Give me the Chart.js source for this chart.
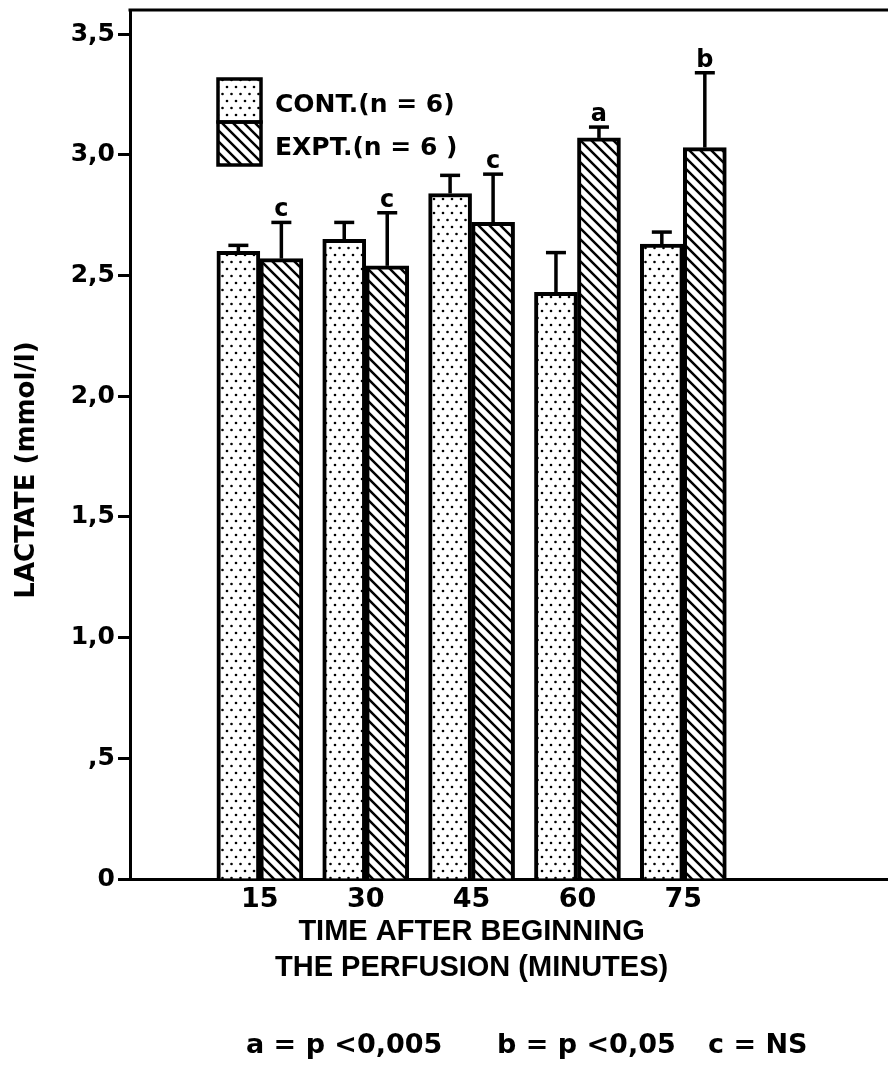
<!DOCTYPE html>
<html><head><meta charset="utf-8">
<script src="https://cdn.jsdelivr.net/npm/chart.js@4.4.0/dist/chart.umd.min.js"></script>
<style>html,body{margin:0;padding:0;background:#fff;overflow:hidden}#wrap{width:888px;height:1069px;position:relative}canvas{display:block}</style>
</head><body><div id="wrap"><canvas id="c" width="888" height="1069"></canvas></div>
<script>
const minutes = [15, 30, 45, 60, 75];
const xTickLabels = ['15', '30', '45', '60', '75'];
const contMeans = [2.60, 2.65, 2.84, 2.43, 2.63];
const contErrors = [0.025, 0.07, 0.075, 0.165, 0.05];
const exptMeans = [2.57, 2.54, 2.72, 3.07, 3.03];
const exptErrors = [0.15, 0.22, 0.20, 0.045, 0.31];
const exptSignificance = ['c', 'c', 'c', 'a', 'b'];
const yTickValues = [0, 0.5, 1, 1.5, 2, 2.5, 3, 3.5];
const yTickLabels = ['0', ',5', '1,0', '1,5', '2,0', '2,5', '3,0', '3,5'];
const legendLabels = ['CONT.(n = 6)', 'EXPT.(n = 6 )'];
const yTitle = 'LACTATE (mmol/l)';
const xTitleLines = ['TIME AFTER BEGINNING', 'THE PERFUSION (MINUTES)'];
const footnotes = ['a = p <0,005', 'b = p <0,05', 'c = NS'];

const FONT = '"DejaVu Sans", sans-serif';
const NARROW = '"Liberation Sans Narrow", "Liberation Sans", sans-serif';

function makeDots() {
  const t = document.createElement('canvas'); t.width = 9; t.height = 14;
  const g = t.getContext('2d');
  g.fillStyle = '#fff'; g.fillRect(0, 0, 9, 14);
  g.fillStyle = '#000';
  g.beginPath(); g.arc(2, 3, 1.3, 0, Math.PI * 2); g.fill();
  g.beginPath(); g.arc(6.5, 10, 1.3, 0, Math.PI * 2); g.fill();
  return document.getElementById('c').getContext('2d').createPattern(t, 'repeat');
}
function makeHatch() {
  const s = 11;
  const t = document.createElement('canvas'); t.width = s; t.height = s;
  const g = t.getContext('2d');
  g.fillStyle = '#fff'; g.fillRect(0, 0, s, s);
  g.strokeStyle = '#000'; g.lineWidth = 2.5;
  g.beginPath();
  g.moveTo(-2, -2); g.lineTo(s + 2, s + 2);
  g.moveTo(-2, s - 2); g.lineTo(2, s + 2);
  g.moveTo(s - 2, -2); g.lineTo(s + 2, 2);
  g.stroke();
  return document.getElementById('c').getContext('2d').createPattern(t, 'repeat');
}
const dots = makeDots();
const hatch = makeHatch();

const deco = {
  id: 'deco',
  afterDatasetsDraw(chart) {
    const { ctx, scales: { y } } = chart;
    ctx.save();
    ctx.strokeStyle = '#000'; ctx.fillStyle = '#000'; ctx.lineWidth = 3.5;
    [[0, contMeans, contErrors], [1, exptMeans, exptErrors]].forEach(([di, means, errs]) => {
      const meta = chart.getDatasetMeta(di);
      meta.data.forEach((bar, i) => {
        const cx = bar.x;
        const y0 = y.getPixelForValue(means[i]);
        const y1 = y.getPixelForValue(means[i] + errs[i]);
        ctx.beginPath(); ctx.moveTo(cx, y0); ctx.lineTo(cx, y1); ctx.stroke();
        ctx.beginPath(); ctx.moveTo(cx - 10, y1); ctx.lineTo(cx + 10, y1); ctx.stroke();
        if (di === 1) {
          ctx.font = 'bold 24px ' + FONT;
          ctx.textAlign = 'center'; ctx.textBaseline = 'alphabetic';
          ctx.fillText(exptSignificance[i], cx, y1 - 6);
        }
      });
    });
    ctx.restore();
  },
  afterDraw(chart) {
    const { ctx, chartArea: ca, scales: { x } } = chart;
    ctx.save();
    ctx.strokeStyle = '#000'; ctx.fillStyle = '#000'; ctx.lineWidth = 3;
    // top frame
    ctx.beginPath(); ctx.moveTo(ca.left - 1.5, ca.top); ctx.lineTo(chart.width, ca.top); ctx.stroke();
    // legend
    const lx = 218, ly = 79, bw = 43, bh = 43;
    ctx.fillStyle = dots; ctx.fillRect(lx, ly, bw, bh);
    ctx.fillStyle = hatch; ctx.fillRect(lx, ly + bh, bw, bh);
    ctx.lineWidth = 3.5;
    ctx.strokeRect(lx, ly, bw, bh); ctx.strokeRect(lx, ly + bh, bw, bh);
    ctx.fillStyle = '#000';
    ctx.font = 'bold 25px ' + FONT; ctx.textAlign = 'left'; ctx.textBaseline = 'middle';
    ctx.fillText(legendLabels[0], 275, 105);
    ctx.fillText(legendLabels[1], 275, 148);
    // y title
    ctx.save();
    ctx.translate(27, 470); ctx.rotate(-Math.PI / 2);
    ctx.font = 'bold 26px ' + FONT; ctx.textAlign = 'center'; ctx.textBaseline = 'middle';
    ctx.fillText(yTitle, 0, 0);
    ctx.restore();
    // x title
    const cx = x.getPixelForValue(45);
    ctx.font = 'bold 29px ' + NARROW; ctx.textAlign = 'center'; ctx.textBaseline = 'middle';
    ctx.fillText(xTitleLines[0], cx, 932);
    ctx.fillText(xTitleLines[1], cx, 968);
    // footnotes
    ctx.font = 'bold 27px ' + FONT; ctx.textAlign = 'left';
    ctx.fillText(footnotes[0], 246, 1046);
    ctx.fillText(footnotes[1], 497, 1046);
    ctx.fillText(footnotes[2], 708, 1046);
    ctx.restore();
  }
};

new Chart(document.getElementById('c'), {
  type: 'bar',
  data: {
    datasets: [
      { label: legendLabels[0], data: minutes.map((m, i) => ({ x: m, y: contMeans[i] })),
        backgroundColor: dots, borderColor: '#000', borderWidth: 4, borderSkipped: 'start', barThickness: 43 },
      { label: legendLabels[1], data: minutes.map((m, i) => ({ x: m, y: exptMeans[i] })),
        backgroundColor: hatch, borderColor: '#000', borderWidth: 4, borderSkipped: 'start', barThickness: 43 }
    ]
  },
  options: {
    responsive: false, animation: false, devicePixelRatio: 1,
    layout: { padding: { top: 10, right: 0, bottom: 0, left: 0 } },
    plugins: { legend: { display: false }, tooltip: { enabled: false } },
    scales: {
      x: {
        type: 'linear', min: -3.4, max: 104, offset: false,
        grid: { display: false, drawTicks: false },
        border: { display: true, color: '#000', width: 3 },
        ticks: { color: '#000', font: { family: FONT, size: 27, weight: 'bold' }, padding: 5,
          autoSkip: false, maxRotation: 0,
          callback: (v) => { const k = minutes.indexOf(v); return k >= 0 ? xTickLabels[k] : ''; } },
        afterBuildTicks: (s) => { s.ticks = minutes.map(v => ({ value: v })); },
        afterFit: (s) => { s.height = 190; s.paddingLeft = 0; s.paddingRight = 0; }
      },
      y: {
        min: 0, max: 3.6,
        grid: { display: true, drawOnChartArea: false, drawTicks: true, tickLength: 12, tickWidth: 3, tickColor: '#000', color: '#000' },
        border: { display: true, color: '#000', width: 3 },
        ticks: { color: '#000', font: { family: FONT, size: 25, weight: 'bold' }, padding: 3,
          callback: (v) => { const k = yTickValues.indexOf(v); return k >= 0 ? yTickLabels[k] : ''; } },
        afterBuildTicks: (s) => { s.ticks = yTickValues.map(v => ({ value: v })); },
        afterFit: (s) => { s.width = 130; s.paddingTop = 0; s.paddingBottom = 0; }
      }
    }
  },
  plugins: [deco]
});
</script></body></html>
